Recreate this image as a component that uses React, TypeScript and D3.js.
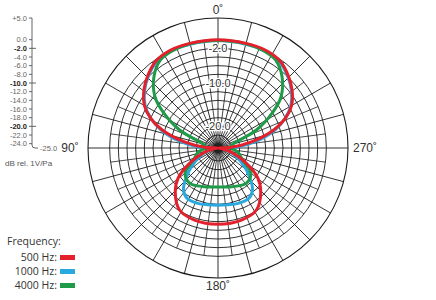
import React from "react";
import * as d3 from "d3";

// ---- data (dB rel. 1V/Pa, half pattern 0..180°, chart is mirror-symmetric) ----
const redAngles = [0, 15, 26, 35, 44, 52, 60, 66, 72, 80, 87, 93, 100, 107, 118, 127, 136, 148, 162, 180];
const redDb = [0, 0, 0.1, -0.3, -1.7, -3.3, -5.4, -7.9, -11.4, -17.3, -22, -25, -24, -21.9, -17.7, -13.5, -10.8, -8.2, -7.5, -7.4];

const blueAngles = [0, 15, 26, 35, 44, 52, 60, 66, 72, 80, 87, 95, 105, 115, 125, 133, 140, 148, 160, 170, 180];
const blueDb = [-0.2, -0.2, -0.1, -0.5, -1.9, -3.5, -5.6, -8, -11, -16, -20.5, -23.5, -22.5, -20.5, -17.5, -15, -12.6, -11.4, -11.4, -11.7, -11.8];

const greenAngles = [0, 15, 25, 33, 42, 51, 57, 65, 73, 82, 90, 101, 110, 118, 127, 141, 160, 180];
const greenDb = [-0.2, -0.1, -0.2, -0.7, -2.9, -6.3, -10, -15.3, -21, -22, -22, -20.4, -19.5, -18.2, -15.5, -14.6, -15.5, -16];

const seriesNames = ["500 Hz:", "1000 Hz:", "4000 Hz:"];
const seriesColors = ["#e3202b", "#2aa9e0", "#1f9a48"];

const scaleValues = [5, 0, -2, -4, -6, -8, -10, -12, -14, -16, -18, -20, -22, -24];
const scaleLabels = ["+5.0", "0.0", "-2.0", "-4.0", "-6.0", "-8.0", "-10.0", "-12.0", "-14.0", "-16.0", "-18.0", "-20.0", "-22.0", "-24.0"];
const majorValues = [-2, -10, -20];
const ringValues = [5, 0, -2, -4, -6, -8, -10, -12, -14, -16, -18, -20, -22, -24];
const angleLabels = [
  { a: 0, t: "0˚" },
  { a: 90, t: "90˚" },
  { a: 180, t: "180˚" },
  { a: 270, t: "270˚" },
];

const DB_MIN = -25;
const DB_MAX = 5;

export default function App() {
  const W = 436, H = 300;
  const cx = 218, cy = 148, R = 130;
  const r = d3.scaleLinear().domain([DB_MIN, DB_MAX]).range([0, R]);
  const y = d3.scaleLinear().domain([DB_MIN, DB_MAX]).range([cy, cy - R]);

  const toFull = (angles: number[], vals: number[]) => {
    const pts: [number, number][] = angles.map((a, i) => [a, vals[i]]);
    const mirror: [number, number][] = [];
    for (let i = angles.length - 2; i >= 1; i--) mirror.push([360 - angles[i], vals[i]]);
    return pts.concat(mirror);
  };

  const radial = d3
    .lineRadial<[number, number]>()
    .angle((d) => (-d[0] * Math.PI) / 180)
    .radius((d) => r(Math.max(DB_MIN, d[1])))
    .curve(d3.curveCatmullRomClosed.alpha(0.5));

  const series = [
    { pts: toFull(blueAngles, blueDb), color: seriesColors[1] },
    { pts: toFull(greenAngles, greenDb), color: seriesColors[2] },
    { pts: toFull(redAngles, redDb), color: seriesColors[0] },
  ];

  const outerAngles = d3.range(0, 360, 15);
  const innerAngles = d3.range(7.5, 360, 15);
  const pol = (deg: number, rad: number): [number, number] => {
    const t = (deg * Math.PI) / 180;
    return [cx - rad * Math.sin(t), cy - rad * Math.cos(t)];
  };

  const font = "'Liberation Sans', Arial, sans-serif";
  const legendFont = "'Open Sans', 'Liberation Sans', sans-serif";
  const axX = 32;

  return (
    <svg width={W} height={H} style={{ position: "absolute", left: 0, top: 0, background: "#fff" }} fontFamily={font}>
      {/* grid */}
      <g stroke="#1a1a1a" fill="none">
        {ringValues.map((v) => (
          <circle key={v} cx={cx} cy={cy} r={r(v)} strokeWidth={v === 5 ? 1.1 : 0.9} />
        ))}
        {outerAngles.map((a) => {
          const [x2, y2] = pol(a, R);
          return <line key={"o" + a} x1={cx} y1={cy} x2={x2} y2={y2} strokeWidth={0.9} />;
        })}
        {innerAngles.map((a) => {
          const [x2, y2] = pol(a, r(0));
          return <line key={"i" + a} x1={cx} y1={cy} x2={x2} y2={y2} strokeWidth={0.8} />;
        })}
      </g>
      {/* ring labels */}
      {majorValues.map((v) => (
        <text
          key={"ml" + v}
          x={cx}
          y={cy - r(v)}
          dy="0.36em"
          textAnchor="middle"
          fontSize={11}
          fill="#333"
          stroke="#fff"
          strokeWidth={2.5}
          paintOrder="stroke"
        >
          {v.toFixed(1)}
        </text>
      ))}
      {/* curves */}
      {series.map((s, i) => (
        <path
          key={i}
          d={radial(s.pts) || ""}
          transform={`translate(${cx},${cy})`}
          fill="none"
          stroke={s.color}
          strokeWidth={3}
          strokeLinejoin="round"
        />
      ))}
      {/* angle labels */}
      {angleLabels.map((l) => {
        const side = l.a === 90 || l.a === 270;
        const [x, yy] = pol(l.a, side ? R + 11 : R + 8);
        const off = l.a === 90 ? -7 : l.a === 270 ? 6 : 0;
        return (
          <text key={l.t} x={x + off} y={yy} dy="0.36em" textAnchor="middle" fontSize={12} fill="#333">
            {l.t}
          </text>
        );
      })}
      {/* left dB scale */}
      <path d={`M${axX},${y(5)} V${y(DB_MIN) - 3} Q${axX},${y(DB_MIN)} ${axX + 3},${y(DB_MIN)} H${axX + 6}`} stroke="#555" fill="none" strokeWidth={0.9} />
      {scaleValues.map((v, i) => {
        const major = majorValues.includes(v);
        return (
          <g key={"s" + v}>
            <line x1={axX - 3} x2={major ? axX + 4 : axX} y1={y(v)} y2={y(v)} stroke="#555" strokeWidth={0.9} />
            <text
              x={axX - 5}
              y={y(v)}
              dy="0.35em"
              textAnchor="end"
              fontSize={7.5}
              fill={major ? "#222" : "#666"}
              fontWeight={major ? "bold" : "normal"}
            >
              {scaleLabels[i]}
            </text>
          </g>
        );
      })}
      <text x={axX + 8} y={y(DB_MIN)} dy="0.35em" fontSize={7.5} fill="#666">
        -25.0
      </text>
      <text x={5} y={166} fontSize={8} fill="#555">
        dB rel. 1V/Pa
      </text>
      {/* legend */}
      <text x={7} y={245} fontSize={10.5} fill="#333" fontFamily={legendFont}>
        Frequency:
      </text>
      {seriesNames.map((n, i) => (
        <g key={n}>
          <text x={57} y={261 + i * 14} textAnchor="end" fontSize={10.5} fill="#333" fontFamily={legendFont}>
            {n}
          </text>
          <rect x={60} y={255 + i * 14} width={15} height={5} fill={seriesColors[i]} />
        </g>
      ))}
    </svg>
  );
}
